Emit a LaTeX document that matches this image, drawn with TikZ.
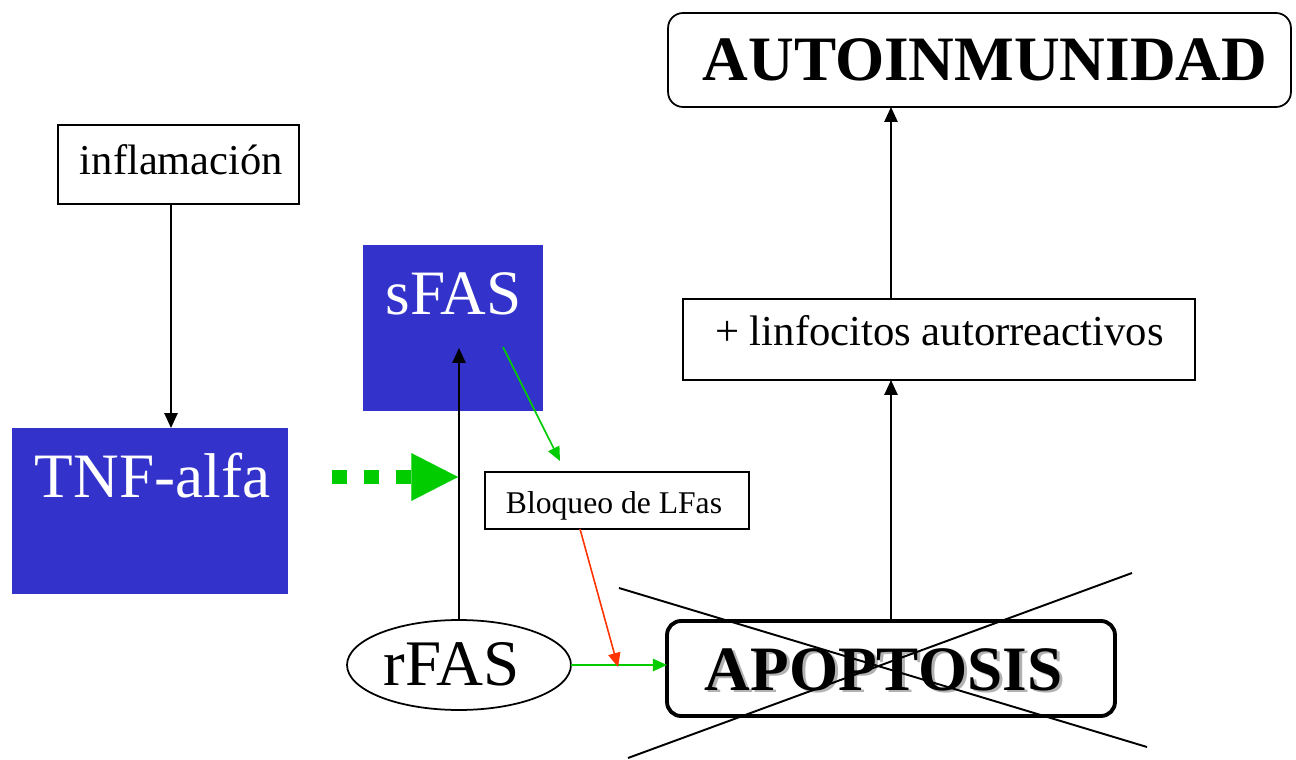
\documentclass[tikz,border=0pt]{standalone}
\usepackage{fontspec}
\setmainfont{Liberation Serif}
\usetikzlibrary{arrows.meta,shapes.geometric}
\definecolor{boxblue}{HTML}{3333CC}
\definecolor{lgreen}{HTML}{00CC00}
\definecolor{lred}{HTML}{FF3300}
\tikzset{
  wbox/.style={draw=black, line width=1pt, fill=white, inner sep=0pt, outer sep=0pt},
  bbox/.style={fill=boxblue, draw=none, inner sep=0pt, outer sep=0pt},
  lbl/.style={anchor=base, inner sep=0pt, outer sep=0pt},
  blk/.style={draw=black, line width=1.1pt, -{Triangle[length=8.5pt,width=7.5pt]}},
  grn/.style={draw=lgreen, line width=0.9pt, -{Triangle[length=8pt,width=7pt]}},
  rd/.style={draw=lred, line width=0.9pt, -{Triangle[length=8pt,width=7pt]}},
}
\newcommand{\fsz}[1]{\fontsize{#1}{#1}\selectfont}
\newcommand{\shadowtext}[1]{\makebox[0pt][l]{\hspace{1.7pt}\raisebox{-1.7pt}{\textcolor{black!30}{#1}}}#1}
\begin{document}
\begin{tikzpicture}[x=0.02cm, y=-0.02cm]
\useasboundingbox (0,0) rectangle (1296,760);
% boxes
\node[wbox, minimum width=4.82cm, minimum height=1.58cm] (infl) at (178.5,164.5) {};
\node[lbl] (inflt) at (181.5,175) {\fsz{24.2}inflamación};
\node[bbox, minimum width=5.52cm, minimum height=3.32cm] (tnf) at (150,511) {};
\node[lbl, text=white] (tnft) at (152.5,498) {\fsz{36}TNF-alfa};
\node[bbox, minimum width=3.6cm, minimum height=3.32cm] (sfas) at (453,328) {};
\node[lbl, text=white] (sfast) at (453.5,315) {\fsz{36}sFAS};
\node[wbox, minimum width=5.28cm, minimum height=1.14cm] (bloq) at (617,500.5) {};
\node[lbl] (bloqt) at (614,513) {\fsz{18}Bloqueo de LFas};
\node[wbox, ellipse, minimum width=4.48cm, minimum height=1.8cm] (rfas) at (459,665) {};
\node[lbl] (rfast) at (451.5,685) {\fsz{37}rFAS};
\node[wbox, line width=2.2pt, rounded corners=0.28cm, minimum width=8.96cm, minimum height=1.9cm] (apop) at (891,668.5) {};
\node[wbox, minimum width=10.24cm, minimum height=1.62cm] (linf) at (939,339.5) {};
\node[lbl] (linft) at (939.5,346) {\fsz{24.3}+ linfocitos autorreactivos};
\node[wbox, rounded corners=0.3cm, minimum width=12.46cm, minimum height=1.88cm] (auto) at (979.5,60) {};
\node[lbl] (autot) at (985,81) {\fsz{36}\bfseries AUTOINMUNIDAD};
% connectors
\draw[blk] ([xshift=-0.15cm]infl.south) -- ([xshift=0.42cm]tnf.north);
\draw[blk] (rfas.north) -- ([xshift=0.12cm,yshift=-0.4cm]sfas.center);
\draw[grn] ([xshift=1cm,yshift=-0.38cm]sfas.center) -- ([xshift=-1.14cm,yshift=0.22cm]bloq.north);
\draw[grn] (rfas.east) -- (rfas.east -| apop.west);
\draw[rd] ([xshift=-0.74cm]bloq.south) -- ([xshift=-0.98cm,yshift=0.03cm]apop.west);
\draw[blk] (apop.north) -- (apop.north |- linf.south);
\draw[blk] (apop.north |- linf.north) -- (apop.north |- auto.south);
% green dashed arrow
\coordinate (gs) at (332,477);
\coordinate (gt) at (458,477);
\draw[draw=lgreen, line width=8.5pt, dash pattern=on 8.8pt off 9.3pt,
  -{Triangle[length=26.6pt,width=27.2pt,line width=0.01pt]}, lgreen] (gs) -- (gt);
% APOPTOSIS text with shadow
\node[lbl] (apopt) at (883.5,690) {\fsz{36}\bfseries\shadowtext{APOPTOSIS}};
% cross
\coordinate (c1) at (619,588);
\coordinate (c2) at (1147,747);
\coordinate (c3) at (628,758);
\coordinate (c4) at (1132,573);
\draw[line width=1.1pt] (c1) -- (c2);
\draw[line width=1.1pt] (c3) -- (c4);
\end{tikzpicture}
\end{document}
